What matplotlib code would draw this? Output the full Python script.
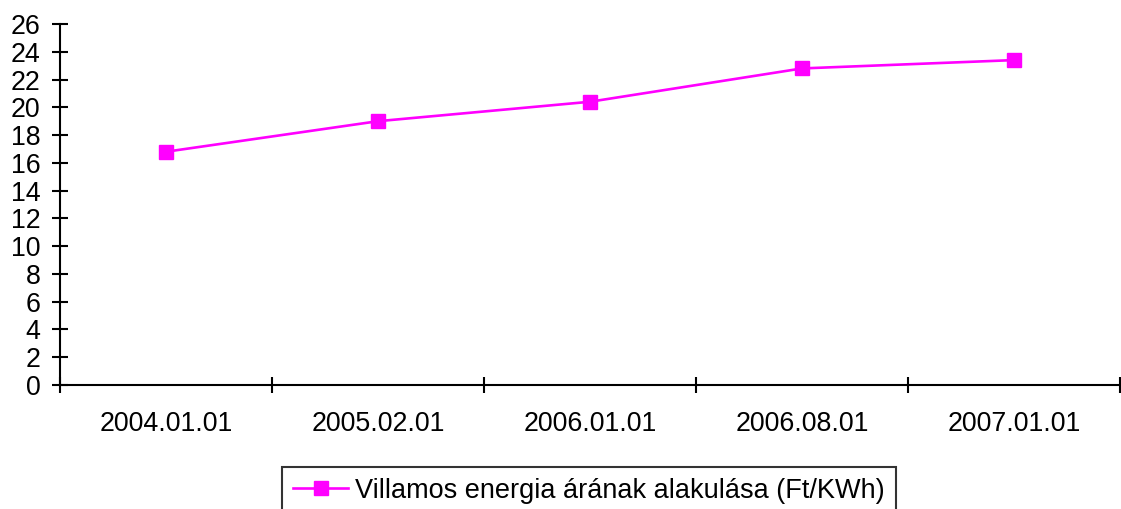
import matplotlib.pyplot as plt
import numpy as np

plt.rcParams['font.family'] = ['Liberation Sans', 'DejaVu Sans']

dates = ["2004.01.01", "2005.02.01", "2006.01.01", "2006.08.01", "2007.01.01"]
prices = [16.8, 19.0, 20.4, 22.8, 23.4]
series_name = "Villamos energia árának alakulása (Ft/KWh)"

fig = plt.figure(figsize=(11.21, 5.09), dpi=100)
ax = fig.add_axes([60 / 1121, 1 - 385 / 509, 1060 / 1121, 361 / 509])

x = np.arange(len(dates))
ax.plot(x, prices, color="#FF00FF", lw=1.9, marker="s", ms=10,
        mec="#FF00FF", mfc="#FF00FF", label=series_name)

ax.set_xlim(-0.5, len(dates) - 0.5)
ax.set_ylim(0, 26)
ax.set_yticks(range(0, 27, 2))

ax.set_xticks(np.arange(-0.5, len(dates), 1.0))
ax.set_xticklabels([])
ax.set_xticks(x, minor=True)
ax.set_xticklabels(dates, minor=True)

for s in ["top", "right"]:
    ax.spines[s].set_visible(False)
for s in ["left", "bottom"]:
    ax.spines[s].set_linewidth(1.5)

ax.tick_params(axis="both", which="major", direction="inout", length=12,
               width=1.5, labelsize=19.3, colors="black")
ax.tick_params(axis="y", pad=8)
ax.tick_params(axis="x", which="minor", length=0, pad=19, labelsize=19.3)
for t in ax.xaxis.get_major_ticks():
    t.tick1line.set_clip_on(False)

leg = fig.legend(loc="upper center", bbox_to_anchor=(0.5254, 1 - 467 / 509),
                 fontsize=19.5, frameon=True, fancybox=False, handlelength=2.05,
                 handletextpad=0.26, borderpad=0.4, borderaxespad=0)
leg.get_frame().set_edgecolor("black")
leg.get_frame().set_linewidth(1.5)

fig.savefig("out.png", dpi=100)
